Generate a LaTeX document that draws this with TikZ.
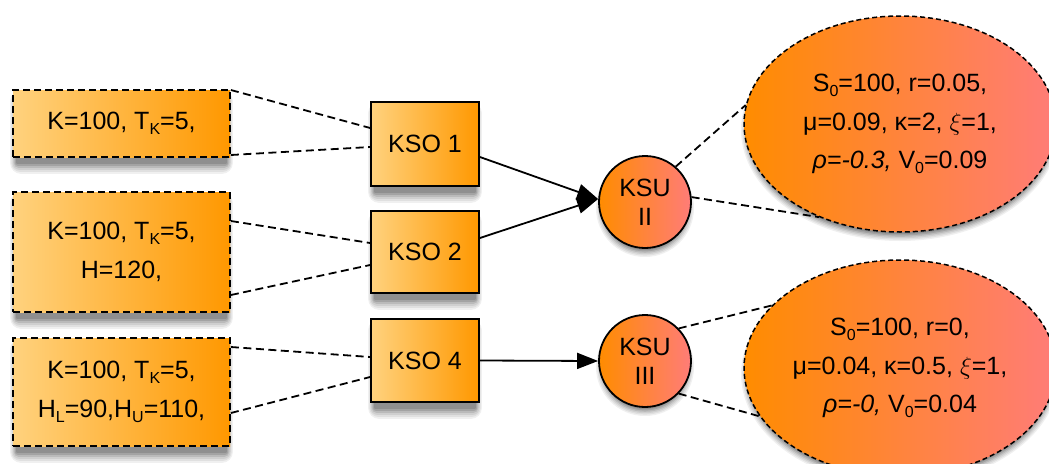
\documentclass[tikz,border=0pt]{standalone}
\usepackage{fontspec}
\setmainfont{Liberation Sans}
\usetikzlibrary{shapes.geometric,arrows.meta,backgrounds}

% lowered, smaller index letters
\newcommand\lowidx[1]{\raisebox{-5pt}{\fontsize{16}{16}\selectfont #1}}

\definecolor{boxlight}{HTML}{FFD27E}
\definecolor{boxdark}{HTML}{FF9800}
\definecolor{ovalleft}{HTML}{FF8C00}
\definecolor{ovalright}{HTML}{FF7C78}

\tikzset{
  parambox/.style={draw=black, line width=1.8pt, dash pattern=on 7pt off 4pt,
      left color=boxlight, right color=boxdark,
      minimum width=217pt, inner sep=0pt, align=center,
      font=\fontsize{25}{39}\selectfont},
  ksobox/.style={draw=black, line width=1.8pt,
      left color=boxlight, right color=boxdark,
      minimum width=108pt, inner sep=0pt,
      font=\fontsize{25}{39}\selectfont},
  ksucircle/.style={circle, draw=black, line width=1.8pt,
      left color=ovalleft, right color=ovalright,
      minimum size=92pt, inner sep=0pt, align=center,
      font=\fontsize{25}{29}\selectfont},
  paramoval/.style={ellipse, draw=black, line width=1.5pt, dash pattern=on 5pt off 3pt,
      left color=ovalleft, right color=ovalright,
      minimum width=312pt, minimum height=216pt, inner sep=0pt, align=center,
      font=\fontsize{25}{38.5}\selectfont},
  link/.style={line width=1.8pt, dash pattern=on 8pt off 4.5pt},
  flow/.style={line width=1.8pt, -{Triangle[length=21pt,width=16pt]}},
}

% soft drop shadows: stacked grey layers, lightest outermost, darkest innermost
\newcommand\dropbox[1]{%
  \foreach \s/\g in {10/6,8/12,6/19,4/27,2/36,0/44}{%
    \fill[black!\g!white, rounded corners=\s pt+1pt]
      ([shift={(-0.6*\s pt+4pt,-6pt-\s pt)}]#1.south west) rectangle
      ([shift={(0.6*\s pt-4pt,-6pt+0.5*\s pt)}]#1.north east);}}
\newcommand\dropround[3]{%
  \foreach \s/\g in {10/6,8/12,6/19,4/27,2/36,0/44}{%
    \fill[black!\g!white] ([yshift=-6pt]#1.center)
      ellipse[x radius=#2+0.7*\s pt-4pt, y radius=#3+0.7*\s pt-4pt];}}

\begin{document}
\begin{tikzpicture}[x=1pt, y=-1pt]
\useasboundingbox (0,0) rectangle (1049,463);
\clip (0,0) rectangle (1049,463);

% parameter boxes on the left
\node[parambox, minimum height=67pt]  (pa) at (121.5,123.5) {K=100, T\lowidx{K}=5,};
\node[parambox, minimum height=120pt] (pb) at (121.5,252) {K=100, T\lowidx{K}=5,\\H=120,};
\node[parambox, minimum height=108pt] (pc) at (121.5,392) {K=100, T\lowidx{K}=5,\\H\lowidx{L}=90,H\lowidx{U}=110,};

% option nodes
\node[ksobox, minimum height=84pt] (k1) at (425,144)   {KSO 1};
\node[ksobox, minimum height=82pt] (k2) at (425,252)   {KSO 2};
\node[ksobox, minimum height=83pt] (k4) at (425,360.5) {KSO 4};

% underlying nodes
\node[ksucircle] (u2) at (645,202) {KSU\\II};
\node[ksucircle] (u3) at (645,361) {KSU\\III};

% model parameter ovals
\node[paramoval] (e1) at (900,124) {S\lowidx{0}=100, r=0.05,\\μ=0.09, κ=2, $\xi$=1,\\\textit{ρ=-0.3,} V\lowidx{0}=0.09};
\node[paramoval] (e2) at (900,368) {S\lowidx{0}=100, r=0,\\μ=0.04, κ=0.5, $\xi$=1,\\\textit{ρ=-0,} V\lowidx{0}=0.04};

% shadows behind every node
\begin{scope}[on background layer]
  \dropbox{pa}\dropbox{pb}\dropbox{pc}
  \dropbox{k1}\dropbox{k2}\dropbox{k4}
  \dropround{u2}{46pt}{46pt}\dropround{u3}{46pt}{46pt}
  \dropround{e1}{156pt}{108pt}\dropround{e2}{156pt}{108pt}
\end{scope}

% dashed attachments
\draw[link] ([yshift=33.5pt]pa.east) -- ([yshift=16pt]k1.west);
\draw[link] ([yshift=-31.5pt]pa.east) -- ([yshift=-3pt]k1.west);
\draw[link] ([yshift=31pt]pb.east) -- ([yshift=9pt]k2.west);
\draw[link] ([yshift=-43pt]pb.east) -- ([yshift=-13pt]k2.west);
\draw[link] ([yshift=45pt]pc.east) -- ([yshift=3.5pt]k4.west);
\draw[link] ([yshift=-21pt]pc.east) -- ([yshift=-16.5pt]k4.west);

\draw[link] (u2.49) -- (e1.173);
\draw[link] (u2.6) -- (e1.229);
\draw[link] (u3.44) -- (e2.154);
\draw[link] (u3.-44) -- (e2.199);

% flow arrows
\draw[flow] ([yshift=-13pt]k1.east) -- ([yshift=3pt]u2.west);
\draw[flow] ([yshift=14pt]k2.east) -- ([yshift=3pt]u2.west);
\draw[flow] (k4.east) -- (u3.west);
\end{tikzpicture}
\end{document}
